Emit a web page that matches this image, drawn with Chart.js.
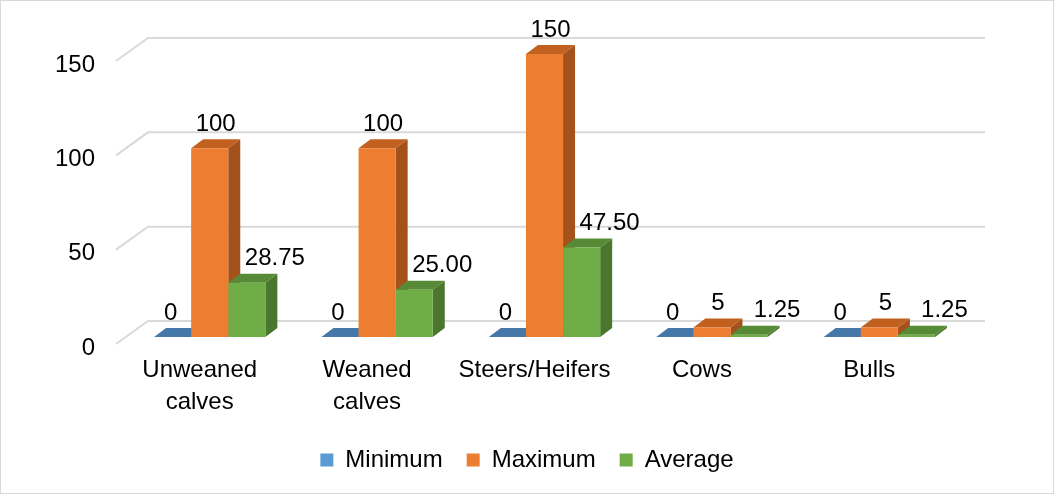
<!DOCTYPE html>
<html>
<head>
<meta charset="utf-8">
<title>Cattle ranges</title>
<script src="https://cdn.jsdelivr.net/npm/chart.js"></script>
<style>
  html, body { margin: 0; padding: 0; background: #fff; }
  #wrap { width: 1054px; height: 494px; position: relative; }
</style>
</head>
<body>
<div id="wrap"><canvas id="grafico"></canvas></div>
<script>
// categorías y series
const categorias = [['Unweaned', 'calves'], ['Weaned', 'calves'], 'Steers/Heifers', 'Cows', 'Bulls'];
const minimo = [0, 0, 0, 0, 0];
const maximo = [100, 100, 150, 5, 5];
const promedio = [28.75, 25.00, 47.50, 1.25, 1.25];
const ticksY = [0, 50, 100, 150];

const FUENTE = "'Liberation Sans', Arial, sans-serif";

// colores: frente, tapa, lado
const colores = [
  { frente: '#5B9BD5', tapa: '#4577a8', lado: '#3f6d99' },
  { frente: '#ED7D31', tapa: '#c2611f', lado: '#a4511b' },
  { frente: '#70AD47', tapa: '#578a36', lado: '#4a762e' }
];
const decimales = [0, 0, 2];
const corrimientoEtiqueta = [-2, 6, 28];
const PROF_X = 12, PROF_Y = 9;

// 👉 pared de fondo con líneas en perspectiva
const pared3d = {
  id: 'pared3d',
  beforeDatasetsDraw(chart) {
    const { ctx, chartArea, scales } = chart;
    ctx.save();
    ctx.strokeStyle = '#d9d9d9';
    ctx.lineWidth = 2;
    ticksY.forEach(v => {
      const py = scales.y.getPixelForValue(v);
      ctx.beginPath();
      ctx.moveTo(chartArea.left - 10, py + 7);
      ctx.lineTo(chartArea.left + 22, py - 16);
      ctx.lineTo(chartArea.right + 22, py - 16);
      ctx.stroke();
    });

    // lados y tapas de cada barra, de izquierda a derecha
    categorias.forEach((_, i) => {
      chart.data.datasets.forEach((ds, d) => {
        const bar = chart.getDatasetMeta(d).data[i];
        const { x, y, base, width } = bar.getProps(['x', 'y', 'base', 'width'], true);
        const x1 = x - width / 2, x2 = x + width / 2;
        const c = colores[d];
        ctx.fillStyle = c.lado;
        ctx.beginPath();
        ctx.moveTo(x2, y);
        ctx.lineTo(x2 + PROF_X, y - PROF_Y);
        ctx.lineTo(x2 + PROF_X, base - PROF_Y);
        ctx.lineTo(x2, base);
        ctx.closePath();
        ctx.fill();
        ctx.fillStyle = c.tapa;
        ctx.beginPath();
        ctx.moveTo(x1, y);
        ctx.lineTo(x1 + PROF_X, y - PROF_Y);
        ctx.lineTo(x2 + PROF_X, y - PROF_Y);
        ctx.lineTo(x2, y);
        ctx.closePath();
        ctx.fill();
      });
    });
    ctx.restore();
  },
  afterDatasetsDraw(chart) {
    const { ctx } = chart;
    ctx.save();
    ctx.font = '24px ' + FUENTE;
    ctx.fillStyle = '#000';
    ctx.textAlign = 'center';
    ctx.textBaseline = 'middle';
    chart.data.datasets.forEach((ds, d) => {
      chart.getDatasetMeta(d).data.forEach((bar, i) => {
        const { x, y } = bar.getProps(['x', 'y'], true);
        ctx.fillText(ds.data[i].toFixed(decimales[d]), x + corrimientoEtiqueta[d], y - 24);
      });
    });
    ctx.restore();
  },
  afterDraw(chart) {
    const { ctx, width, height } = chart;
    ctx.save();
    ctx.strokeStyle = '#d9d9d9';
    ctx.lineWidth = 1;
    ctx.strokeRect(0.5, 0.5, width - 1, height - 1);
    ctx.restore();
  }
};

new Chart(document.getElementById('grafico'), {
  type: 'bar',
  data: {
    labels: categorias,
    datasets: [
      { label: 'Minimum', data: minimo, backgroundColor: colores[0].frente },
      { label: 'Maximum', data: maximo, backgroundColor: colores[1].frente },
      { label: 'Average', data: promedio, backgroundColor: colores[2].frente }
    ]
  },
  options: {
    responsive: true,
    maintainAspectRatio: false,
    animation: false,
    layout: { padding: { left: 0, right: 0, top: 54, bottom: 12 } },
    datasets: { bar: { categoryPercentage: 0.665, barPercentage: 1, borderWidth: 0 } },
    scales: {
      x: {
        grid: { display: false, drawTicks: false },
        border: { display: false },
        ticks: { color: '#000', font: { family: FUENTE, size: 24, lineHeight: 1.35 }, padding: 17, labelOffset: -10, maxRotation: 0 },
        afterFit(scale) { scale.height = 87; }
      },
      y: {
        min: 0, max: 150,
        grid: { display: false, drawTicks: false },
        border: { display: false },
        ticks: { stepSize: 50, color: '#000', font: { family: FUENTE, size: 24 }, padding: 31, labelOffset: 11 },
        afterFit(scale) { scale.width = 126; }
      },
      // margen derecho vacío para la profundidad de la pared
      yDer: {
        position: 'right',
        min: 0, max: 150,
        grid: { display: false, drawTicks: false },
        border: { display: false },
        ticks: { display: false },
        afterFit(scale) { scale.width = 91; }
      }
    },
    plugins: {
      legend: {
        position: 'bottom',
        labels: { color: '#000', font: { family: FUENTE, size: 24 }, boxWidth: 13, boxHeight: 13, padding: 24 }
      },
      tooltip: { enabled: false }
    }
  },
  plugins: [pared3d]
});
</script>
</body>
</html>
